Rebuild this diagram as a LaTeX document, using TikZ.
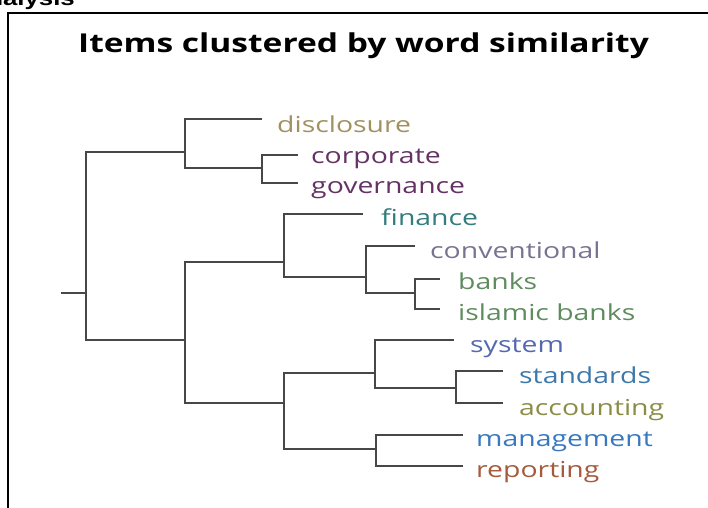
\documentclass[tikz,border=0pt]{standalone}
\usepackage{fontspec}
\setmainfont{Open Sans}
\newfontfamily\headfont{Liberation Sans}
\begin{document}
\begin{tikzpicture}[x=1pt,y=-1pt,
  link/.style={draw=black!72, line width=2.2pt},
  frameline/.style={draw=black, line width=2.4pt},
  leaf/.style={anchor=base west, inner sep=0pt, font=\fontsize{22}{24}\selectfont},
  title/.style={anchor=base west, inner sep=0pt, font=\fontsize{26}{28}\selectfont\bfseries}]
\definecolor{cDisc}{RGB}{160,145,95}
\definecolor{cCorp}{RGB}{100,50,100}
\definecolor{cFin}{RGB}{50,125,125}
\definecolor{cConv}{RGB}{120,115,145}
\definecolor{cBank}{RGB}{95,140,95}
\definecolor{cSys}{RGB}{85,105,175}
\definecolor{cStd}{RGB}{60,120,170}
\definecolor{cAcc}{RGB}{140,140,70}
\definecolor{cMgmt}{RGB}{55,120,190}
\definecolor{cRep}{RGB}{165,90,60}
\newcommand{\widen}[1]{\scalebox{1.29}[1]{#1}}

\useasboundingbox (0,0) rectangle (708,507);
\clip (0,0) rectangle (708,507);

% heading fragment above the frame
\node[anchor=base east, inner sep=0pt, font=\headfont\fontsize{20}{22}\selectfont\bfseries] (head) at (75,5) {\widen{Analysis}};

% frame
\coordinate (fTL) at (8,13);
\coordinate (fBL) at (8,510);
\coordinate (fTR) at (712,13);
\draw[frameline] (fBL) -- (fTL) -- (fTR);

% title
\node[title] (ttl) at (78,52) {\widen{Items clustered by word similarity}};

% junctions of the dendrogram
\coordinate (stub) at (61,293);
\coordinate (R) at (86,293);
\coordinate (A) at (185,152);
\coordinate (B) at (262,168);
\coordinate (C) at (185,340);
\coordinate (D) at (284,262);
\coordinate (E) at (366,277);
\coordinate (F) at (415,293);
\coordinate (G) at (284,403);
\coordinate (H) at (375,373);
\coordinate (I) at (456,388);
\coordinate (J) at (376,449);

% leaf tips
\coordinate (tDisc) at (262,119);
\coordinate (tCorp) at (298,155);
\coordinate (tGov) at (298,183);
\coordinate (tFin) at (363,214);
\coordinate (tConv) at (415,246);
\coordinate (tBank) at (440,279);
\coordinate (tIsl) at (440,309);
\coordinate (tSys) at (454,340);
\coordinate (tStd) at (503,371);
\coordinate (tAcc) at (503,403);
\coordinate (tMgmt) at (463,435);
\coordinate (tRep) at (463,466);

% labels
\node[leaf, text=cDisc] (disclosure) at (277,132) {\widen{disclosure}};
\node[leaf, text=cCorp] (corporate) at (311,163) {\widen{corporate}};
\node[leaf, text=cCorp] (governance) at (311,193) {\widen{governance}};
\node[leaf, text=cFin] (finance) at (381,225) {\widen{finance}};
\node[leaf, text=cConv] (conventional) at (430,258) {\widen{conventional}};
\node[leaf, text=cBank] (banks) at (458,289) {\widen{banks}};
\node[leaf, text=cBank] (islamic) at (458,320) {\widen{islamic banks}};
\node[leaf, text=cSys] (system) at (470,352) {\widen{system}};
\node[leaf, text=cStd] (standards) at (519,383) {\widen{standards}};
\node[leaf, text=cAcc] (accounting) at (519,415) {\widen{accounting}};
\node[leaf, text=cMgmt] (management) at (476,446) {\widen{management}};
\node[leaf, text=cRep] (reporting) at (476,477) {\widen{reporting}};

% branches
\draw[link] (stub) -- (R);
\draw[link] (R) |- (A);
\draw[link] (R) |- (C);
\draw[link] (A) |- (tDisc);
\draw[link] (A) |- (B);
\draw[link] (B) |- (tCorp);
\draw[link] (B) |- (tGov);
\draw[link] (C) |- (D);
\draw[link] (C) |- (G);
\draw[link] (D) |- (tFin);
\draw[link] (D) |- (E);
\draw[link] (E) |- (tConv);
\draw[link] (E) |- (F);
\draw[link] (F) |- (tBank);
\draw[link] (F) |- (tIsl);
\draw[link] (G) |- (H);
\draw[link] (G) |- (J);
\draw[link] (H) |- (tSys);
\draw[link] (H) |- (I);
\draw[link] (I) |- (tStd);
\draw[link] (I) |- (tAcc);
\draw[link] (J) |- (tMgmt);
\draw[link] (J) |- (tRep);
\end{tikzpicture}
\end{document}
